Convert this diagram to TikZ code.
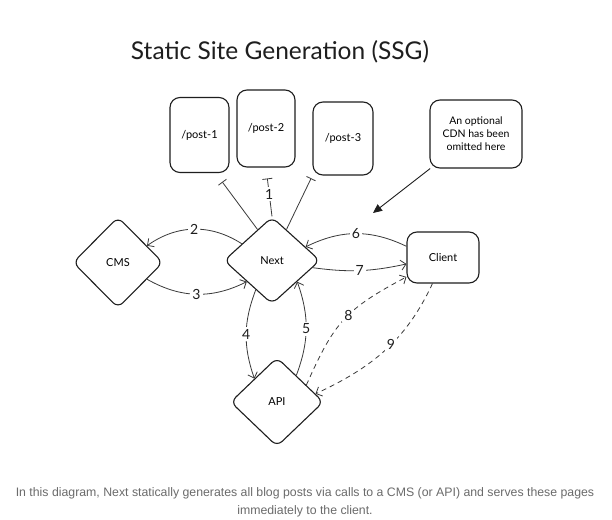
\documentclass[tikz,border=0pt]{standalone}
\usepackage{fontspec}
\setmainfont{Lato}
\newfontfamily\capfont{Liberation Sans}
\usetikzlibrary{shapes.geometric,arrows.meta,calc}
\definecolor{ink}{HTML}{1E1E1E}
\definecolor{ink2}{HTML}{3A3A3A}
\definecolor{capgray}{HTML}{6B6B6B}
\begin{document}
\begin{tikzpicture}[x=1pt,y=-1pt,
  shp/.style={draw=ink, line width=1.1pt},
  postbox/.style={shp, rectangle, rounded corners=10pt, inner sep=0pt, font=\fontsize{11}{13}\selectfont},
  dia/.style={shp, diamond, rounded corners=7pt, inner sep=0pt, font=\fontsize{11}{13}\selectfont},
  conn/.style={draw=ink2, line width=0.8pt, -{Straight Barb[length=5pt,width=10pt]}},
  dconn/.style={conn, dashed, dash pattern=on 5pt off 4pt},
  barline/.style={draw=ink2, line width=0.8pt, -{Bar[width=10pt,line width=0.8pt]}},
  lab/.style={fill=white, inner sep=2pt, font=\fontsize{14}{14}\selectfont, text=ink}
]
\fill[white] (0,0) rectangle (612,519);
\useasboundingbox (0,0) rectangle (612,519);

% title
\node[font=\fontsize{24.5}{26}\selectfont, text=ink] (title) at (280,52) {Static Site Generation (SSG)};

% post boxes
\node[postbox, minimum width=59pt, minimum height=75pt] (post1) at (199.5,135) {/post-1};
\node[postbox, minimum width=58pt, minimum height=77pt] (post2) at (266,128.5) {/post-2};
\node[postbox, minimum width=60pt, minimum height=73pt] (post3) at (343,138.5) {/post-3};

% note
\node[postbox, minimum width=92pt, minimum height=68pt, align=center, font=\fontsize{10.5}{13}\selectfont] (note) at (476,134) {An optional\\CDN has been\\omitted here};

% diamonds
\node[dia, minimum width=96pt, minimum height=87pt] (next) at (272,260.5) {Next};
\node[dia, minimum width=90pt, minimum height=91pt] (cms) at (118,262.5) {CMS};
\node[dia, minimum width=93pt, minimum height=89pt] (api) at (277,402) {API};

% client
\node[postbox, minimum width=72pt, minimum height=51pt] (client) at (443,257.5) {Client};

% arrow from note
\coordinate (notetip) at (373,213);
\draw[draw=ink, line width=0.9pt, -{Triangle[length=9pt,width=8pt]}] (note.-143) -- (notetip);

% next to posts
\draw[barline, shorten >=11pt] (next.115) -- (post1.-67);
\draw[barline, shorten >=11pt] (next.north) -- node[lab, pos=0.45] (l1) {1} (post2.south);
\draw[barline, shorten >=3pt] (next.65) -- (post3.south west);

% 2 and 3
\draw[conn] (next.151) to[bend right=34] node[lab] (l2) {2} (cms.30);
\draw[conn] (cms.-30) to[bend right=28] node[lab] (l3) {3} (next.220);

% 4 and 5
\draw[conn] (next.241) to[bend right=20] node[lab] (l4) {4} (api.134);
\draw[conn] (api.54) to[bend right=20] node[lab] (l5) {5} (next.-40);

% 6 and 7
\draw[conn] (client.163) to[bend right=26] node[lab] (l6) {6} (next.22);
\draw[conn] (next.-10) to[bend right=10] node[lab] (l7) {7} (client.190);

% 8 and 9 dashed
\draw[dconn] (api.30) to[out=66,in=208,looseness=1.2] node[lab, pos=0.55] (l8) {8} (client.208);
\draw[dconn] (client.-112) to[out=-115,in=25] node[lab, pos=0.45] (l9) {9} (api.12);

% caption
\node[font=\capfont\fontsize{12.3}{18}\selectfont, text=capgray, align=center] (cap) at (305,502)
 {In this diagram, Next statically generates all blog posts via calls to a CMS (or API) and serves these pages\\immediately to the client.};
\end{tikzpicture}
\end{document}
